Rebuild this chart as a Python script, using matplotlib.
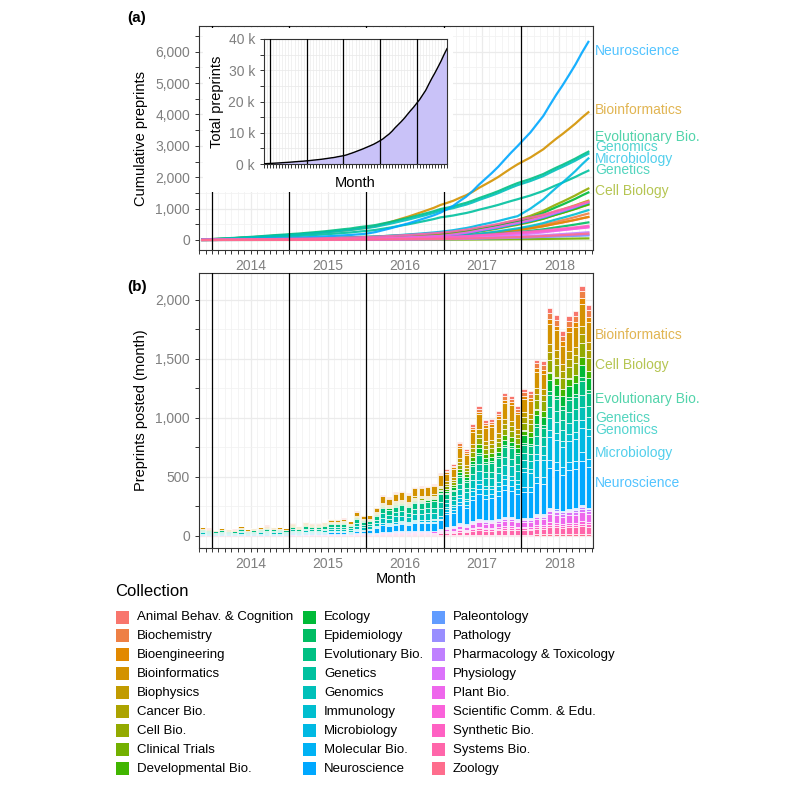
import numpy as np
import matplotlib
matplotlib.use('Agg')
import matplotlib.pyplot as plt
from matplotlib.patches import Rectangle
from matplotlib.ticker import FuncFormatter, FixedLocator, MultipleLocator
from matplotlib.transforms import blended_transform_factory

plt.rcParams['font.family'] = ['Liberation Sans', 'DejaVu Sans']

collections = ['Animal Behav. & Cognition', 'Biochemistry', 'Bioengineering', 'Bioinformatics',
               'Biophysics', 'Cancer Bio.', 'Cell Bio.', 'Clinical Trials', 'Developmental Bio.',
               'Ecology', 'Epidemiology', 'Evolutionary Bio.', 'Genetics', 'Genomics',
               'Immunology', 'Microbiology', 'Molecular Bio.', 'Neuroscience', 'Paleontology',
               'Pathology', 'Pharmacology & Toxicology', 'Physiology', 'Plant Bio.',
               'Scientific Comm. & Edu.', 'Synthetic Bio.', 'Systems Bio.', 'Zoology']

# monthly totals, Nov 2013 - Nov 2018
total_2013 = [70, 60]
total_2014 = [50, 62, 55, 51, 79, 53, 65, 73, 85, 76, 73, 62]
total_2015 = [104, 79, 115, 104, 104, 115, 141, 141, 146, 124, 205, 175]
total_2016 = [177, 245, 343, 324, 366, 380, 358, 414, 417, 422, 436, 529]
total_2017 = [560, 605, 797, 732, 943, 1098, 977, 985, 1056, 1205, 1182, 1098]
total_2018 = [1244, 1225, 1492, 1478, 1929, 1872, 1731, 1858, 1900, 2117, 1951]

# preprints per collection and year (2014 includes Nov-Dec 2013), same order as collections
counts_2014 = [10, 8, 10, 155, 27, 8, 10, 1, 10, 35, 10, 175, 110, 150, 5, 30, 10, 60, 10, 2, 3, 5, 12, 10, 10, 35, 3]
counts_2015 = [25, 20, 20, 220, 50, 25, 30, 3, 25, 65, 20, 250, 170, 220, 20, 60, 25, 130, 10, 5, 7, 10, 30, 25, 25, 55, 8]
counts_2016 = [55, 45, 45, 740, 115, 70, 120, 6, 90, 125, 40, 560, 440, 560, 45, 170, 80, 680, 20, 15, 20, 25, 90, 50, 45, 140, 20]
counts_2017 = [230, 260, 240, 1300, 400, 380, 480, 15, 380, 370, 180, 830, 580, 820, 300, 500, 400, 2130, 45, 50, 80, 129, 410, 130, 160, 410, 60]
counts_2018 = [410, 510, 420, 1660, 660, 660, 1000, 25, 620, 920, 310, 1000, 910, 1000, 580, 1840, 670, 3320, 60, 95, 135, 250, 660, 182, 210, 580, 110]

# right-hand labels: (collection index, text, y position)
labels_a = [(17, 'Neuroscience', 6030), (3, 'Bioinformatics', 4140), (11, 'Evolutionary Bio.', 3270),
            (13, 'Genomics', 2970), (15, 'Microbiology', 2570), (12, 'Genetics', 2230),
            (6, 'Cell Biology', 1570)]
labels_b = [(3, 'Bioinformatics', 1703), (6, 'Cell Biology', 1450), (11, 'Evolutionary Bio.', 1155),
            (12, 'Genetics', 994), (13, 'Genomics', 892), (15, 'Microbiology', 698),
            (17, 'Neuroscience', 444)]


def hue_colors(n, c=100.0, l=65.0):
    # ggplot2 default hue palette (polar LUV -> sRGB)
    hs = np.linspace(15, 375, n + 1)[:-1]
    xn, yn, zn = 0.95047, 1.0, 1.08883
    un = 4 * xn / (xn + 15 * yn + 3 * zn)
    vn = 9 * yn / (xn + 15 * yn + 3 * zn)
    m = np.array([[3.2404542, -1.5371385, -0.4985314],
                  [-0.9692660, 1.8760108, 0.0415560],
                  [0.0556434, -0.2040259, 1.0572252]])
    out = []
    for h in hs:
        hr = np.radians(h)
        U, V = c * np.cos(hr), c * np.sin(hr)
        Y = yn * ((l + 16) / 116) ** 3
        u = U / (13 * l) + un
        v = V / (13 * l) + vn
        X = 9 * Y * u / (4 * v)
        Z = -X / 3 - 5 * Y + 3 * Y / v
        rgb = m @ np.array([X, Y, Z])
        rgb = np.where(rgb <= 0.0031308, 12.92 * rgb, 1.055 * np.abs(rgb) ** (1 / 2.4) - 0.055)
        out.append(tuple(np.clip(rgb, 0, 1)))
    return out


colors = hue_colors(len(collections))

totals = np.array(total_2013 + total_2014 + total_2015 + total_2016 + total_2017 + total_2018, dtype=float)
nmonth = len(totals)
period = np.array([0] * 14 + [1] * 12 + [2] * 12 + [3] * 12 + [4] * 11)
counts = np.array([counts_2014, counts_2015, counts_2016, counts_2017, counts_2018], dtype=float)
shares = counts / counts.sum(axis=1, keepdims=True)
monthly = totals[:, None] * shares[period]
cumul = monthly.cumsum(axis=0)

month_start = 2013 + (10 + np.arange(nmonth)) / 12.0
month_mid = month_start + 0.5 / 12.0
all_months = 2013 + (10 + np.arange(nmonth + 2)) / 12.0
years = [2014, 2015, 2016, 2017, 2018]

W = 790.0
fig = plt.figure(figsize=(7.9, 7.9), dpi=100)


def px(x0, y0, x1, y1):
    return [x0 / W, 1 - y1 / W, (x1 - x0) / W, (y1 - y0) / W]


grey_txt = '#7F7F7F'


def style_time_axis(ax, ylim, major_y, minor_y, fmt):
    ax.set_xlim(2013.831, 2018.935)
    ax.set_ylim(*ylim)
    ax.set_xticks([y + 0.5 for y in years])
    ax.set_xticklabels([str(y) for y in years])
    ax.xaxis.set_minor_locator(FixedLocator(all_months))
    ax.yaxis.set_major_locator(MultipleLocator(major_y))
    ax.yaxis.set_minor_locator(MultipleLocator(minor_y))
    ax.yaxis.set_major_formatter(FuncFormatter(fmt))
    ax.grid(which='major', color='#EBEBEB', lw=0.9)
    ax.grid(which='minor', color='#F2F2F2', lw=0.6)
    ax.set_axisbelow(True)
    ax.tick_params(which='both', length=3, width=0.7, color='#333333', labelcolor=grey_txt, labelsize=10)
    for s in ax.spines.values():
        s.set_color('#333333')
        s.set_linewidth(0.8)
    for y in years:
        ax.axvline(y, color='black', lw=0.9, zorder=3)


comma = lambda v, p: '{:,.0f}'.format(v)

# panel (a)
ax_a = fig.add_axes(px(199, 26, 593, 250))
for j in range(len(collections)):
    ax_a.plot(month_mid, cumul[:, j], color=colors[j], lw=1.6, alpha=0.9, zorder=2)
style_time_axis(ax_a, (-320, 6820), 1000, 500, comma)
ax_a.set_ylabel('Cumulative preprints', fontsize=10.5, labelpad=5)
tr = blended_transform_factory(ax_a.transAxes, ax_a.transData)
for j, name, yv in labels_a:
    ax_a.text(1.006, yv, name, transform=tr, color=colors[j], alpha=0.68, fontsize=10,
              va='center', ha='left', clip_on=False)
fig.text(127 / W, 1 - 18 / W, '(a)', fontsize=11, fontweight='bold', va='center')

# panel (b)
ax_b = fig.add_axes(px(199, 273, 593, 548))
bottom = np.zeros(nmonth)
for j in reversed(range(len(collections))):
    ax_b.bar(month_mid, monthly[:, j], width=0.8 / 12, bottom=bottom, color=colors[j],
             edgecolor='white', linewidth=0.5, zorder=2)
    bottom += monthly[:, j]
style_time_axis(ax_b, (-106, 2226), 500, 250, comma)
ax_b.set_ylabel('Preprints posted (month)', fontsize=10.5, labelpad=5)
ax_b.set_xlabel('Month', fontsize=10.5, labelpad=1)
tr = blended_transform_factory(ax_b.transAxes, ax_b.transData)
for j, name, yv in labels_b:
    ax_b.text(1.006, yv, name, transform=tr, color=colors[j], alpha=0.68, fontsize=10,
              va='center', ha='left', clip_on=False)
fig.text(127 / W, 1 - 287 / W, '(b)', fontsize=11, fontweight='bold', va='center')

# inset with total preprints
bg = Rectangle((203 / W, 1 - 192 / W), 250 / W, 164 / W, transform=fig.transFigure,
               facecolor='white', edgecolor='none', zorder=1)
fig.add_artist(bg)
ax_in = fig.add_axes(px(264, 39, 447, 164))
ax_in.set_zorder(2)
total_cum = totals.cumsum()
ax_in.fill_between(month_start, total_cum, color='#C9C2F8', zorder=2)
ax_in.plot(month_start, total_cum, color='black', lw=1.0, zorder=3)
ax_in.set_xlim(month_start[0], month_start[-1])
ax_in.set_ylim(0, 40000)
ax_in.yaxis.set_major_locator(MultipleLocator(10000))
ax_in.yaxis.set_minor_locator(MultipleLocator(5000))
ax_in.yaxis.set_major_formatter(FuncFormatter(lambda v, p: '{:.0f} k'.format(v / 1000)))
ax_in.set_xticks([])
ax_in.xaxis.set_minor_locator(FixedLocator(month_start))
ax_in.grid(which='both', axis='x', color='#EBEBEB', lw=0.5)
ax_in.grid(which='both', axis='y', color='#EBEBEB', lw=0.6)
ax_in.set_axisbelow(True)
ax_in.tick_params(which='both', length=3, width=0.7, color='#333333', labelcolor=grey_txt, labelsize=10)
for s in ax_in.spines.values():
    s.set_color('#333333')
    s.set_linewidth(0.8)
for y in years:
    ax_in.axvline(y, color='black', lw=0.9, zorder=4)
ax_in.set_ylabel('Total preprints', fontsize=10.5, labelpad=3)
ax_in.set_xlabel('Month', fontsize=10.5, labelpad=2)

# legend
fig.text(115 / W, 1 - 592 / W, 'Collection', fontsize=12, va='center', ha='left')
col_key_x = [116, 303, 432]
col_txt_x = [137, 324, 453]
for i, name in enumerate(collections):
    c, r = divmod(i, 9)
    yc = 617 + r * 18.95
    fig.add_artist(Rectangle((col_key_x[c] / W, 1 - (yc + 6.5) / W), 13 / W, 13 / W,
                             transform=fig.transFigure, facecolor=colors[i], edgecolor='none'))
    fig.text(col_txt_x[c] / W, 1 - yc / W, name, fontsize=9.5, va='center', ha='left')

fig.savefig('out.png', dpi=100)
